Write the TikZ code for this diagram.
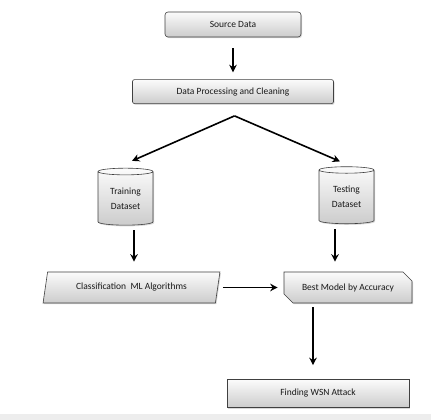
\documentclass[tikz,border=0pt]{standalone}
\usepackage{fontspec}
\setmainfont{Carlito}
\usetikzlibrary{arrows.meta,positioning,shapes.geometric,shapes.misc,shadows,calc}

\begin{document}
\begin{tikzpicture}[x=1pt, y=1pt,
  node distance=42pt and 12pt,
  stage/.style={draw=gray!50!black, line width=0.6pt, align=center,
                font=\fontsize{9.5}{11}\selectfont, text=black!90, inner sep=0pt,
                top color=gray!3, bottom color=gray!40,
                drop shadow={opacity=0.3, shadow xshift=1pt, shadow yshift=-1.2pt}},
  store/.style={stage, cylinder, shape border rotate=90, aspect=0.22,
                minimum width=55pt, minimum height=57pt},
  arr/.style={-{Stealth[length=7.5pt, width=7.5pt]}, line width=1.6pt}]
  \useasboundingbox (0,0) rectangle (431,420);
  \fill[gray!14] (0,0) rectangle (431,6);
  % boxes
  \node[stage, rounded corners=3pt, minimum width=136pt, minimum height=25pt] (src) at (233,395.5) {Source Data};
  \node[stage, rounded corners=2pt, minimum width=201pt, minimum height=24pt, below=42pt of src] (proc) {Data Processing and Cleaning};
  \node[store] (train) at (125.5,221.5) {Training\\[4pt] Dataset};
  \node[store] (test) at (346.5,223) {Testing\\[4pt] Dataset};
  \node[stage, trapezium, trapezium left angle=70, trapezium right angle=110, trapezium stretches=true,
        minimum width=177pt, minimum height=31pt] (algo) at (131.5,132.5) {Classification\ \ ML Algorithms};
  \node[stage, chamfered rectangle, chamfered rectangle corners={north east,south west},
        chamfered rectangle xsep=5pt, chamfered rectangle ysep=5pt,
        minimum width=128pt, minimum height=31pt] (best) at (348,132.5) {Best Model by Accuracy};
  \node[stage, minimum width=182pt, minimum height=28pt] (wsn) at (318,26.5) {Finding WSN Attack};
  % connectors
  \coordinate (fork) at ($(proc.south)+(1.5,-12)$);
  \draw[arr, shorten <=11pt, shorten >=7pt] (src) -- (proc);
  \draw[arr] (fork) -- ([shift={(6.5pt,7pt)}]train.north);
  \draw[arr] (fork) -- ([shift={(-6.5pt,5pt)}]test.north);
  \draw[arr, shorten <=5pt, shorten >=10pt] ([xshift=8.5pt]train.south) -- ([xshift=8.5pt]train.south |- algo.north);
  \draw[arr, shorten <=5pt, shorten >=10pt] ([xshift=-11.5pt]test.south) -- ([xshift=-11.5pt]test.south |- best.north);
  \draw[arr, shorten <=5pt, shorten >=6pt] (algo.east) -- (best.west);
  \draw[arr, shorten <=4pt, shorten >=14pt] ([xshift=-5pt]wsn.north |- best.south) -- ([xshift=-5pt]wsn.north);
\end{tikzpicture}
\end{document}
